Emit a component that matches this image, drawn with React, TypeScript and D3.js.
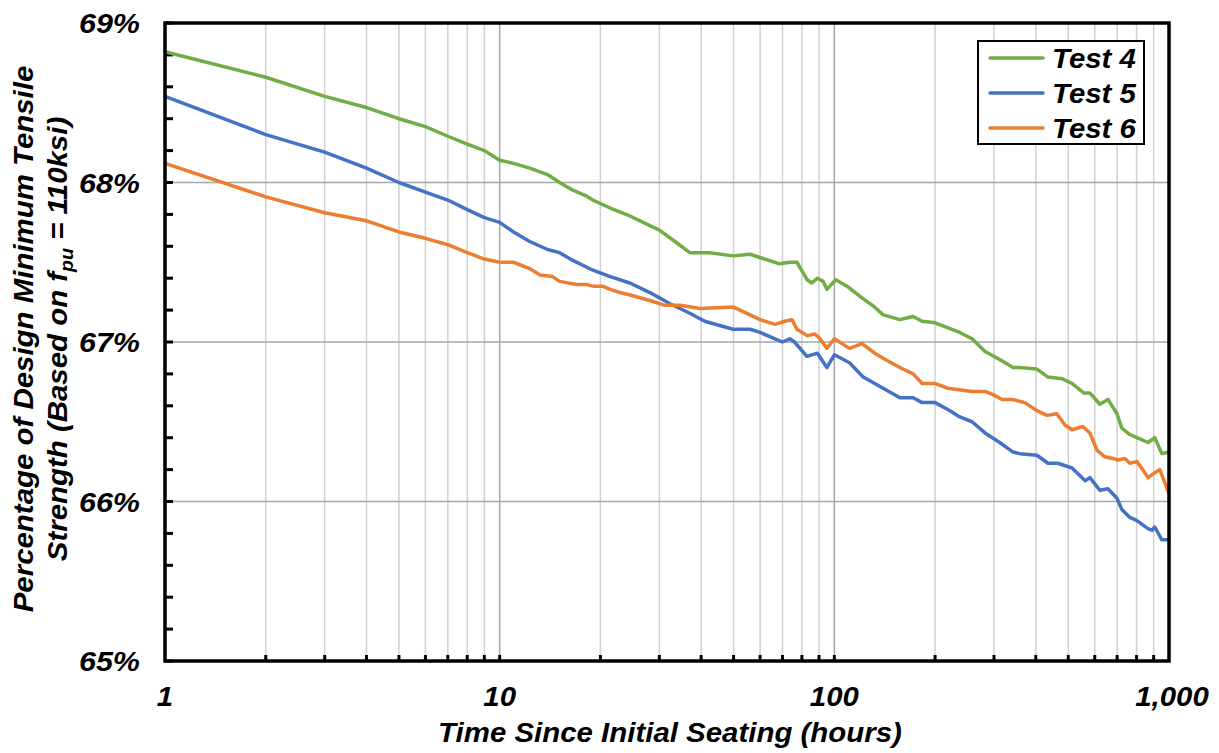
import React from "react";
import * as d3 from "d3";

const hours4 = [1, 2, 3, 4, 5, 6, 7, 8, 9, 10, 11, 12.3, 13.9, 15.1, 16.6, 18, 19, 21.4, 24.5, 28.1, 30.1, 33.4, 37, 39.7, 42.4, 49.8, 56, 60, 64, 68.6, 73.6, 77.3, 83, 85.6, 89, 92.6, 95, 101, 109, 122, 130, 140, 157, 172, 183, 200, 237, 258, 282, 312, 342, 358, 403, 435, 479, 513, 557, 580, 622, 657, 699, 723, 764, 802, 865, 907, 952, 1000];
const test4 = [68.82, 68.66, 68.54, 68.47, 68.40, 68.35, 68.29, 68.24, 68.20, 68.14, 68.12, 68.09, 68.05, 68.0, 67.95, 67.92, 67.89, 67.84, 67.79, 67.73, 67.70, 67.63, 67.56, 67.56, 67.56, 67.54, 67.55, 67.53, 67.51, 67.49, 67.50, 67.50, 67.39, 67.37, 67.40, 67.38, 67.33, 67.39, 67.35, 67.27, 67.23, 67.17, 67.14, 67.16, 67.13, 67.12, 67.06, 67.02, 66.94, 66.89, 66.84, 66.84, 66.83, 66.78, 66.77, 66.74, 66.68, 66.68, 66.61, 66.64, 66.55, 66.46, 66.42, 66.40, 66.37, 66.40, 66.30, 66.31];

const hours5 = [1, 2, 3, 4, 5, 6, 7, 8, 9, 10, 11, 12.3, 13.9, 15.1, 16.6, 19, 21.4, 24.5, 28.1, 32.3, 37, 41, 49.8, 56, 60, 66.5, 70, 73.6, 76, 82.8, 89, 95, 100, 111, 122, 157, 172, 183, 200, 221, 237, 258, 282, 312, 342, 358, 403, 435, 465, 513, 562, 580, 622, 657, 699, 723, 764, 802, 865, 889, 907, 952, 1000];
const test5 = [68.54, 68.30, 68.19, 68.09, 68.0, 67.94, 67.89, 67.83, 67.78, 67.75, 67.69, 67.63, 67.58, 67.56, 67.51, 67.45, 67.41, 67.37, 67.31, 67.24, 67.18, 67.13, 67.08, 67.08, 67.06, 67.02, 67.0, 67.02, 67.0, 66.91, 66.93, 66.84, 66.92, 66.87, 66.78, 66.65, 66.65, 66.62, 66.62, 66.57, 66.53, 66.50, 66.43, 66.37, 66.31, 66.30, 66.29, 66.24, 66.24, 66.21, 66.13, 66.15, 66.07, 66.08, 66.02, 65.95, 65.90, 65.88, 65.83, 65.82, 65.84, 65.76, 65.76];

const hours6 = [1, 2, 3, 4, 5, 6, 7, 8, 9, 10, 11, 12.3, 13.2, 14.4, 15.1, 17, 18.2, 19, 20.3, 21.4, 22.9, 25, 28.1, 31.2, 34.6, 39.7, 49.8, 56, 60, 66.5, 71, 74.7, 77.3, 83, 87.5, 90.6, 95, 100, 111, 121, 132, 142, 157, 172, 183, 200, 218, 258, 282, 298, 317, 340, 371, 403, 432, 462, 489, 513, 553, 580, 610, 643, 680, 704, 738, 764, 802, 847, 865, 907, 939, 1000];
const test6 = [68.12, 67.91, 67.81, 67.76, 67.69, 67.65, 67.61, 67.56, 67.52, 67.50, 67.50, 67.46, 67.42, 67.41, 67.38, 67.36, 67.36, 67.35, 67.35, 67.33, 67.31, 67.29, 67.26, 67.23, 67.23, 67.21, 67.22, 67.17, 67.14, 67.11, 67.13, 67.14, 67.08, 67.04, 67.05, 67.02, 66.96, 67.02, 66.96, 66.99, 66.93, 66.89, 66.84, 66.80, 66.74, 66.74, 66.71, 66.69, 66.69, 66.67, 66.64, 66.64, 66.62, 66.57, 66.54, 66.55, 66.48, 66.45, 66.47, 66.43, 66.32, 66.28, 66.27, 66.26, 66.27, 66.24, 66.25, 66.18, 66.15, 66.18, 66.20, 66.05];

const seriesNames = ["Test 4", "Test 5", "Test 6"];
const seriesColors = ["#70AD47", "#4472C4", "#ED7D31"];
const yTicks = [65, 66, 67, 68, 69];
const xTicks = [1, 10, 100, 1000];
const xTickLabels = ["1", "10", "100", "1,000"];

const W = 1219, H = 753;
const L = 165, R = 1169, T = 23, B = 661;
const FONT = "'Liberation Sans', Arial, sans-serif";
const SX = 1.09;

function SText(props: { x: number; y: number; anchor?: string; size: number; children: React.ReactNode }) {
  const { x, y, anchor = "start", size, children } = props;
  return (
    <g transform={`translate(${x},${y}) scale(${SX},1)`}>
      <text x={0} y={0} textAnchor={anchor} fontFamily={FONT} fontSize={size} fontWeight="bold" fontStyle="italic" fill="#000">
        {children}
      </text>
    </g>
  );
}

export default function App() {
  const x = d3.scaleLog().domain([1, 1000]).range([L, R]);
  const y = d3.scaleLinear().domain([65, 69]).range([B, T]);
  const series = [
    { h: hours4, v: test4 },
    { h: hours5, v: test5 },
    { h: hours6, v: test6 },
  ];
  const line = d3.line<[number, number]>().x((d) => x(d[0])).y((d) => y(d[1]));

  const minorX: number[] = [];
  for (const dec of [1, 10, 100]) for (let k = 2; k <= 9; k++) minorX.push(dec * k);
  const minorY: number[] = d3.range(65, 69.001, 0.2).map((v) => Math.round(v * 10) / 10);

  return (
    <div style={{ position: "absolute", left: 0, top: 0 }}>
      <svg width={W} height={H} style={{ display: "block", background: "#fff" }}>
        {minorX.map((v) => (
          <line key={"mx" + v} x1={x(v)} x2={x(v)} y1={T} y2={B} stroke="#d0d0d0" strokeWidth={1.5} />
        ))}
        {[10, 100].map((v) => (
          <line key={"Mx" + v} x1={x(v)} x2={x(v)} y1={T} y2={B} stroke="#a6a6a6" strokeWidth={1.5} />
        ))}
        {[66, 67, 68].map((v) => (
          <line key={"gy" + v} x1={L} x2={R} y1={y(v)} y2={y(v)} stroke="#a6a6a6" strokeWidth={1.5} />
        ))}
        {minorY.map((v) => (
          <line key={"ty" + v} x1={L} x2={L + 8} y1={y(v)} y2={y(v)} stroke="#000" strokeWidth={3} />
        ))}
        {[...minorX, 10, 100].map((v) => (
          <line key={"tx" + v} x1={x(v)} x2={x(v)} y1={B} y2={B - 6} stroke="#000" strokeWidth={3} />
        ))}
        {series.map((s, i) => (
          <path
            key={"s" + i}
            d={line(s.h.map((h, j) => [h, s.v[j]] as [number, number])) || ""}
            fill="none"
            stroke={seriesColors[i]}
            strokeWidth={3.5}
            strokeLinejoin="round"
            strokeLinecap="round"
          />
        ))}
        <rect x={L} y={T} width={R - L} height={B - T} fill="none" stroke="#000" strokeWidth={3.5} />
        {yTicks.map((v) => (
          <SText key={"yl" + v} x={140} y={y(v) + 10} anchor="end" size={28}>
            {v}%
          </SText>
        ))}
        {xTicks.map((v, i) => (
          <SText key={"xl" + v} x={x(v) + (i === 3 ? 3 : 0)} y={706} anchor="middle" size={27}>
            {xTickLabels[i]}
          </SText>
        ))}
        <SText x={670} y={742} anchor="middle" size={27}>
          Time Since Initial Seating (hours)
        </SText>
        <g transform={`translate(33, 339) rotate(-90) scale(${SX},1)`}>
          <text x={0} y={0} textAnchor="middle" fontFamily={FONT} fontSize={27} fontWeight="bold" fontStyle="italic">
            Percentage of Design Minimum Tensile
          </text>
          <text x={0} y={34} textAnchor="middle" fontFamily={FONT} fontSize={27} fontWeight="bold" fontStyle="italic">
            Strength (Based on f<tspan fontSize={18} dy={6}>pu</tspan>
            <tspan dy={-6}> = 110ksi)</tspan>
          </text>
        </g>
        <rect x={978} y={41} width={166} height={103} fill="#fff" stroke="#000" strokeWidth={2} />
        {seriesNames.map((n, i) => (
          <g key={"lg" + i}>
            <line x1={990} x2={1043} y1={58 + i * 35} y2={58 + i * 35} stroke={seriesColors[i]} strokeWidth={3.5} strokeLinecap="round" />
            <SText x={1052} y={58 + i * 35 + 10} size={27}>
              {n}
            </SText>
          </g>
        ))}
      </svg>
    </div>
  );
}
